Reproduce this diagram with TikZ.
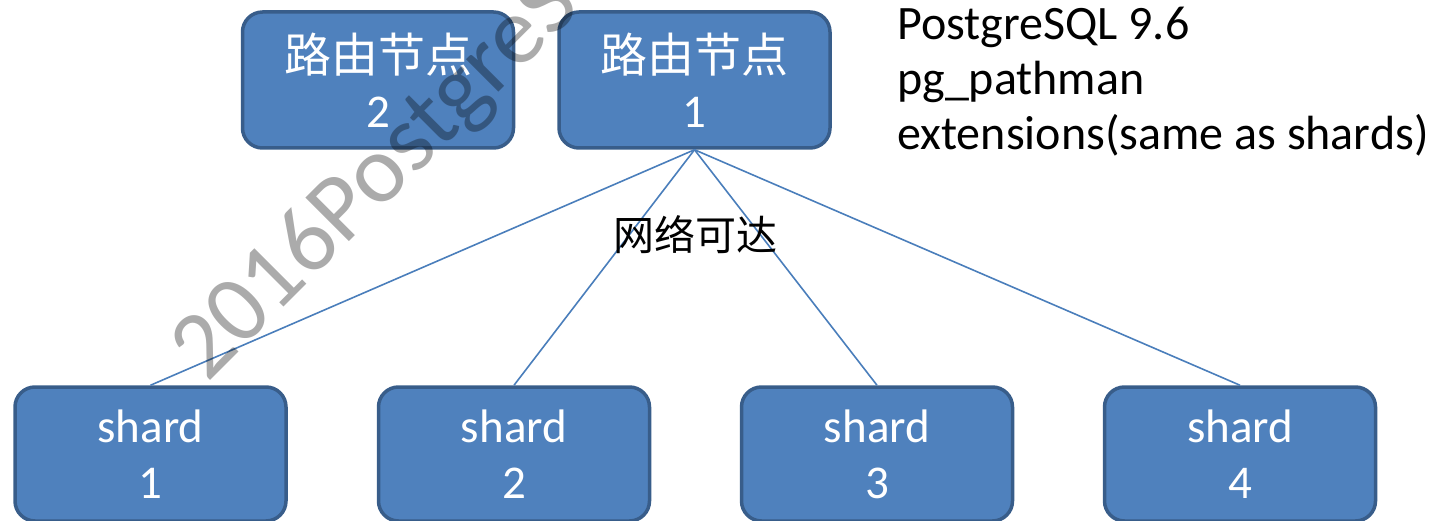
\documentclass[tikz,border=0pt]{standalone}
\usepackage{fontspec}
\setmainfont{Carlito}
\newfontfamily\cjk{Noto Sans CJK SC}
\definecolor{boxfill}{HTML}{4F81BD}
\definecolor{boxline}{HTML}{385D8A}
\definecolor{linkcol}{HTML}{4A7EBB}
\begin{document}
\begin{tikzpicture}[x=1pt,y=-1pt,
  nodebox/.style={draw=boxline, line width=3.5pt, fill=boxfill, rounded corners=20pt,
    minimum width=271pt, inner sep=0pt, text=white, align=center,
    font=\fontsize{47}{55}\selectfont},
  shardbox/.style={nodebox, minimum height=134pt, font=\fontsize{47}{56}\selectfont},
  routerbox/.style={nodebox, minimum height=136pt},
  link/.style={draw=linkcol, line width=1.6pt},
  note/.style={anchor=base west, inner sep=0pt, font=\fontsize{48}{55}\selectfont}]
\useasboundingbox (0,0) rectangle (1443,521);
\clip (0,0) rectangle (1443,521);
\node[routerbox] (r2) at (378,80) {{\cjk 路由节点}\\2};
\node[routerbox] (r1) at (694.5,80) {{\cjk 路由节点}\\1};
\node[shardbox] (s1) at (150.5,454) {shard\\1};
\node[shardbox] (s2) at (514,454) {shard\\2};
\node[shardbox] (s3) at (877,454) {shard\\3};
\node[shardbox] (s4) at (1240,454) {shard\\4};
\draw[link] (r1.south) -- (s1.north);
\draw[link] (r1.south) -- (s2.north);
\draw[link] (r1.south) -- (s3.north);
\draw[link] (r1.south) -- (s4.north);
\node[inner sep=0pt, font=\fontsize{41}{41}\selectfont\cjk] (lbl) at (695,235) {网络可达};
\node[note] (n1) at (897,40) {PostgreSQL 9.6};
\node[note] (n2) at (897,95) {pg\_pathman};
\node[note] (n3) at (897,150) {extensions(same as shards)};
\node[rotate=45, anchor=base west, inner sep=0pt, text=black, opacity=0.33,
  font=\fontsize{96}{96}\selectfont] (wm) at (207,384) {2016PostgreSQL};
\end{tikzpicture}
\end{document}
